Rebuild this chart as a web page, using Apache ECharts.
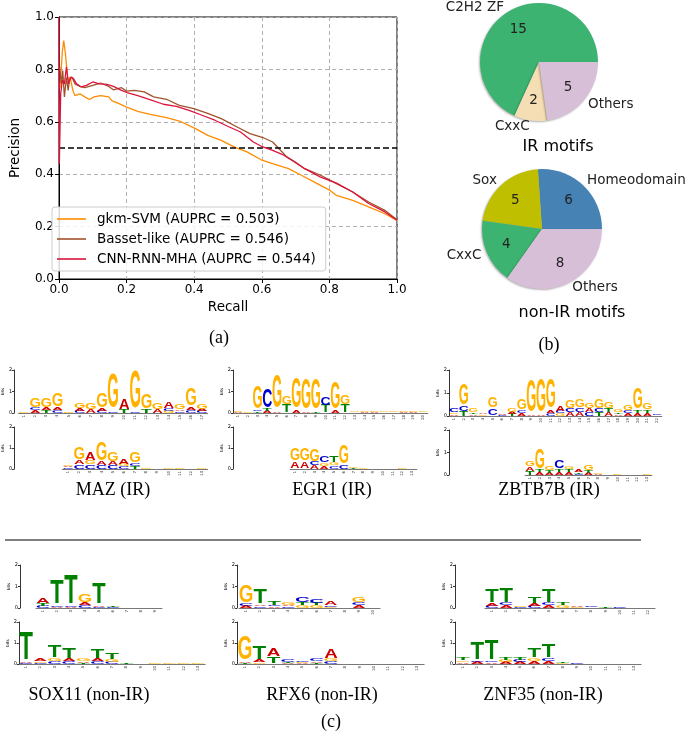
<!DOCTYPE html>
<html><head><meta charset="utf-8">
<script src="https://cdn.jsdelivr.net/npm/echarts@6/dist/echarts.min.js"></script>
<style>html,body{margin:0;padding:0;background:#fff}#c{width:685px;height:736px}</style>
</head><body><div id="c"></div>
<script>
// ---------- (a) precision-recall curves ----------
const gkmRecall = [0.003,0.01,0.014,0.019,0.026,0.033,0.041,0.047,0.062,0.076,0.09,0.104,0.123,0.147,0.157,0.176,0.2,0.233,0.27,0.318,0.356,0.404,0.44,0.48,0.518,0.556,0.598,0.632,0.679,0.717,0.764,0.802,0.821,0.869,0.916,0.964,1.0];
const gkmPrecision = [0.73,0.87,0.91,0.86,0.76,0.77,0.72,0.70,0.707,0.695,0.685,0.695,0.70,0.695,0.68,0.67,0.656,0.64,0.628,0.616,0.603,0.574,0.548,0.529,0.504,0.485,0.455,0.44,0.421,0.396,0.364,0.338,0.319,0.30,0.275,0.249,0.224];
const bassetRecall = [0.002,0.007,0.011,0.016,0.022,0.027,0.031,0.038,0.047,0.062,0.076,0.1,0.123,0.147,0.161,0.185,0.2,0.223,0.252,0.28,0.318,0.356,0.399,0.442,0.48,0.527,0.565,0.603,0.632,0.651,0.674,0.698,0.727,0.774,0.821,0.869,0.916,0.964,1.0];
const bassetPrecision = [0.81,0.745,0.796,0.695,0.77,0.72,0.758,0.771,0.745,0.735,0.73,0.739,0.748,0.735,0.722,0.73,0.717,0.72,0.714,0.695,0.686,0.663,0.65,0.631,0.612,0.58,0.555,0.54,0.523,0.497,0.466,0.447,0.421,0.396,0.364,0.332,0.294,0.262,0.226];
const cnnRecall = [0,0.001,0.005,0.01,0.016,0.022,0.028,0.035,0.043,0.052,0.066,0.081,0.1,0.119,0.142,0.161,0.185,0.204,0.233,0.271,0.309,0.347,0.385,0.423,0.461,0.499,0.537,0.575,0.603,0.632,0.66,0.689,0.727,0.774,0.821,0.869,0.916,0.964,1.0];
const cnnPrecision = [1.0,0.44,0.707,0.758,0.745,0.81,0.745,0.771,0.765,0.745,0.733,0.739,0.752,0.745,0.743,0.735,0.72,0.71,0.70,0.684,0.667,0.659,0.644,0.625,0.606,0.583,0.561,0.523,0.504,0.491,0.476,0.453,0.421,0.389,0.366,0.332,0.288,0.256,0.224];
const seriesNames = ['gkm-SVM (AUPRC = 0.503)','Basset-like (AUPRC = 0.546)','CNN-RNN-MHA (AUPRC = 0.544)'];
const chanceLevel = 0.5;

// ---------- (b) pies ----------
const irNames = ['C2H2 ZF','CxxC','Others'];
const irValues = [15,2,5];
const nonIrNames = ['Homeodomain','Sox','CxxC','Others'];
const nonIrValues = [6,5,4,8];

// ---------- (c) sequence logos: [top letter, its bits, letters below (bottom->up), their total bits] ----------
const mazTop = [["G",0.05,"",0],["G",0.45,"AC",0.24],["G",0.45,"TA",0.24],["G",0.6,"CA",0.25],["G",0.05,"",0],["G",0.28,"CA",0.18],["G",0.3,"A",0.16],["G",0.7,"CA",0.18],["G",1.64,"C",0.08],["A",0.5,"T",0.15],["G",1.78,"C",0.06],["G",0.72,"T",0.16],["G",0.3,"A",0.16],["A",0.3,"GC",0.2],["G",0.25,"CA",0.17],["G",0.85,"CA",0.27],["G",0.25,"CA",0.18]];
const mazBottom = [["G",0.08,"CA",0.15],["G",0.55,"CA",0.42],["A",0.38,"CG",0.4],["G",0.9,"CA",0.35],["G",0.45,"CA",0.33],["A",0.22,"CG",0.23],["G",0.5,"TC",0.28],["G",0.03,"A",0.02],["G",0.02,"",0],["G",0.03,"A",0.02],["G",0.03,"A",0.02],["G",0.02,"C",0.02],["G",0.03,"A",0.02]];
const egr1Top = [["G",0.06,"A",0.04],["G",0.03,"",0],["G",1.1,"TC",0.13],["C",0.9,"AT",0.18],["G",1.6,"A",0.08],["G",0.38,"T",0.36],["G",1.44,"A",0.1],["G",1.48,"A",0.06],["G",1.48,"T",0.06],["C",0.38,"T",0.34],["G",1.28,"A",0.1],["G",0.42,"T",0.38],["G",0.03,"C",0.02],["G",0.05,"A",0.03],["G",0.06,"A",0.04],["G",0.03,"C",0.02],["G",0.03,"A",0.02],["G",0.04,"A",0.03],["G",0.06,"A",0.03],["G",0.04,"C",0.02]];
const egr1Bottom = [["G",0.6,"A",0.34],["G",0.6,"A",0.34],["G",0.55,"AC",0.34],["C",0.3,"AG",0.28],["T",0.32,"CG",0.3],["G",0.9,"C",0.18],["G",0.06,"T",0.05],["G",0.03,"C",0.02],["G",0.02,"A",0.02],["G",0.02,"",0],["G",0.02,"C",0.01],["G",0.03,"A",0.01],["G",0.02,"",0]];
const zbtb7bTop = [["C",0.18,"AG",0.15],["G",0.95,"TC",0.42],["G",0.2,"AT",0.16],["A",0.08,"G",0.06],["G",0.48,"C",0.32],["A",0.05,"C",0.03],["G",0.16,"TA",0.17],["G",0.45,"AC",0.25],["G",1.45,"A",0.07],["G",1.5,"A",0.05],["G",1.3,"CA",0.25],["A",0.2,"GC",0.2],["G",0.38,"AC",0.32],["G",0.35,"AC",0.35],["G",0.25,"CA",0.3],["G",0.4,"TC",0.3],["G",0.28,"AT",0.3],["G",0.12,"AT",0.14],["G",0.25,"AC",0.22],["G",0.95,"AT",0.25],["G",0.3,"AT",0.25],["C",0.04,"G",0.02]];
const zbtb7bBottom = [["G",0.25,"TA",0.35],["G",0.9,"AT",0.22],["G",0.2,"AT",0.2],["C",0.35,"AT",0.25],["G",0.12,"AT",0.25],["A",0.1,"CT",0.12],["G",0.22,"AT",0.2],["G",0.05,"A",0.03],["C",0.02,"",0],["G",0.03,"",0],["G",0.02,"",0],["G",0.02,"",0],["G",0.04,"",0]];
const sox11Top = [["A",0.25,"CT",0.2],["T",1.1,"AC",0.12],["T",1.33,"AC",0.1],["G",0.38,"CA",0.24],["T",1.0,"CA",0.12],["T",0.04,"C",0.04],["T",0.02,"",0],["T",0.02,"",0],["T",0.02,"",0]];
const sox11Bottom = [["T",1.3,"CA",0.09],["A",0.12,"CG",0.12],["T",0.55,"CG",0.28],["T",0.5,"CA",0.22],["G",0.1,"TA",0.12],["T",0.42,"CA",0.26],["T",0.28,"CG",0.21],["T",0.03,"G",0.02],["G",0.02,"",0],["G",0.03,"",0],["G",0.03,"",0],["G",0.03,"",0],["G",0.03,"",0]];
const rfx6Top = [["G",0.85,"AC",0.18],["T",0.7,"CA",0.15],["T",0.18,"AC",0.13],["G",0.12,"CA",0.14],["C",0.25,"GT",0.25],["C",0.2,"GT",0.22],["A",0.2,"GC",0.11],["T",0.02,"",0],["G",0.22,"AC",0.24],["G",0.01,"",0]];
const rfx6Bottom = [["G",1.15,"TA",0.1],["T",0.6,"GA",0.18],["A",0.4,"T",0.32],["C",0.1,"AT",0.1],["C",0.08,"AG",0.07],["C",0.1,"TA",0.12],["A",0.45,"CG",0.23],["G",0.01,"",0],["G",0.01,"",0],["G",0.01,"",0],["G",0.01,"",0],["G",0.01,"",0],["G",0.01,"",0]];
const znf35Top = [["T",0.62,"CA",0.2],["T",0.65,"AC",0.22],["G",0.05,"C",0.05],["T",0.32,"CA",0.18],["T",0.6,"AC",0.22],["T",0.12,"G",0.14],["A",0.06,"G",0.04],["C",0.04,"G",0.02],["T",0.03,"C",0.02],["C",0.03,"A",0.01],["A",0.02,"",0],["A",0.02,"",0]];
const znf35Bottom = [["T",0.15,"AG",0.16],["T",0.8,"AC",0.18],["T",0.95,"AC",0.13],["T",0.15,"AG",0.19],["T",0.12,"AC",0.19],["T",0.45,"AG",0.27],["T",0.6,"AC",0.28],["T",0.05,"G",0.03],["C",0.04,"",0],["G",0.02,"A",0.01],["G",0.02,"",0],["T",0.02,"",0],["A",0.02,"",0]];
const logoTitles = ['MAZ (IR)','EGR1 (IR)','ZBTB7B (IR)','SOX11 (non-IR)','RFX6 (non-IR)','ZNF35 (non-IR)'];

// ---------- styling / layout ----------
const LETTERS = ['A','C','G','T'];
const LETTER_COLORS = {A:'#CC0000', C:'#0000CC', G:'#FFB300', T:'#008000'};
const INK = {A:0.70, C:0.64, G:0.69, T:0.59};
const CAP = {A:0.716, C:0.74, G:0.74, T:0.716};
const SANS = 'DejaVu Sans';
const SERIF = 'Liberation Serif';

const logoLayout = [
  {data: mazTop,      axis: 13,  first: 23,  last: 202, base: 413, top: 370},
  {data: mazBottom,   axis: 13,  first: 67,  last: 202, base: 469, top: 427},
  {data: egr1Top,     axis: 233, first: 238, last: 423, base: 413, top: 370},
  {data: egr1Bottom,  axis: 233, first: 295, last: 412, base: 469, top: 427},
  {data: zbtb7bTop,   axis: 449, first: 454, last: 657, base: 416, top: 370},
  {data: zbtb7bBottom,axis: 449, first: 530, last: 647, base: 475, top: 430},
  {data: sox11Top,    axis: 20,  first: 43,  last: 155, base: 608, top: 565},
  {data: sox11Bottom, axis: 19,  first: 26,  last: 198, base: 664, top: 622},
  {data: rfx6Top,     axis: 237, first: 246, last: 373, base: 608, top: 565},
  {data: rfx6Bottom,  axis: 237, first: 245, last: 417, base: 664, top: 622},
  {data: znf35Top,    axis: 455, first: 492, last: 648, base: 608, top: 565},
  {data: znf35Bottom, axis: 455, first: 463, last: 634, base: 664, top: 622}
];

function buildLogoData(arr) {
  const out = [];
  arr.forEach((p, i) => {
    const main = p[0], mainH = p[1], subs = p[2], subH = p[3];
    let y = 0;
    const each = subs.length ? subH / subs.length : 0;
    for (const ch of subs) { out.push([i, y, y + each, LETTERS.indexOf(ch)]); y += each; }
    out.push([i, y, y + mainH, LETTERS.indexOf(main)]);
  });
  return out;
}

function renderLetter(params, api) {
  const pos = api.value(0), y0 = api.value(1), y1 = api.value(2);
  const letter = LETTERS[api.value(3)];
  const pb = api.coord([pos, y0]), pt = api.coord([pos, y1]);
  const h = pb[1] - pt[1];
  if (!(h > 0.25)) return null;
  const w = api.size([1, 0])[0] * 0.92;
  const F = 100;
  return {
    type: 'text',
    x: pb[0], y: (pb[1] + pt[1]) / 2,
    scaleX: w / (INK[letter] * F), scaleY: h / (CAP[letter] * F),
    style: {text: letter, x: 0, y: 0.0115 * F, fill: LETTER_COLORS[letter],
            font: 'bold 100px "Liberation Sans"', align: 'center', verticalAlign: 'middle'}
  };
}

const W = 685, H = 736;
const grids = [{left: 45, right: W - 397, top: 17, bottom: H - 279, show: true, borderColor: '#000', borderWidth: 1, backgroundColor: '#fff'}];
const xAxes = [{
  gridIndex: 0, type: 'value', min: 0, max: 1, interval: 0.2,
  name: 'Recall', nameLocation: 'middle', nameGap: 21,
  nameTextStyle: {fontFamily: SANS, fontSize: 13.5, color: '#000'},
  axisLine: {show: true, lineStyle: {color: '#000', width: 1}},
  axisTick: {show: true, length: 4, lineStyle: {color: '#000'}},
  axisLabel: {fontFamily: SANS, fontSize: 12, color: '#000', margin: 5, formatter: v => v.toFixed(1)},
  splitLine: {show: true, lineStyle: {color: '#b0b0b0', type: [4, 3], width: 1}}
}];
const yAxes = [{
  gridIndex: 0, type: 'value', min: 0, max: 1, interval: 0.2,
  name: 'Precision', nameLocation: 'middle', nameGap: 37,
  nameTextStyle: {fontFamily: SANS, fontSize: 13.5, color: '#000'},
  axisLine: {show: true, lineStyle: {color: '#000', width: 1}},
  axisTick: {show: true, length: 4, lineStyle: {color: '#000'}},
  axisLabel: {fontFamily: SANS, fontSize: 12, color: '#000', margin: 5, formatter: v => v.toFixed(1)},
  splitLine: {show: true, lineStyle: {color: '#b0b0b0', type: [4, 3], width: 1}}
}];

const zip = (a, b) => a.map((v, i) => [v, b[i]]);
const series = [
  {name: seriesNames[0], type: 'line', xAxisIndex: 0, yAxisIndex: 0, data: zip(gkmRecall, gkmPrecision),
   symbol: 'none', lineStyle: {color: '#ff8c00', width: 1.3}, itemStyle: {color: '#ff8c00'}, z: 3,
   markLine: {silent: true, symbol: 'none', label: {show: false},
     lineStyle: {color: '#000', type: [6, 3], width: 1.6}, data: [{yAxis: chanceLevel}]}},
  {name: seriesNames[1], type: 'line', xAxisIndex: 0, yAxisIndex: 0, data: zip(bassetRecall, bassetPrecision),
   symbol: 'none', lineStyle: {color: '#a0522d', width: 1.3}, itemStyle: {color: '#a0522d'}, z: 4},
  {name: seriesNames[2], type: 'line', xAxisIndex: 0, yAxisIndex: 0, data: zip(cnnRecall, cnnPrecision),
   symbol: 'none', lineStyle: {color: '#dc143c', width: 1.3}, itemStyle: {color: '#dc143c'}, z: 5}
];

function pieSeries(names, values, colors, center, r) {
  const data = names.map((n, i) => ({name: n, value: values[i], itemStyle: {color: colors[i]}}));
  return [
    {type: 'pie', center: center, radius: [0, r], startAngle: 0, clockwise: false, avoidLabelOverlap: false,
     silent: true, itemStyle: {borderWidth: 0, shadowColor: 'rgba(0,0,0,0.3)', shadowBlur: 2, shadowOffsetX: -1, shadowOffsetY: 1},
     label: {show: true, position: 'outside', formatter: '{b}', fontFamily: SANS, fontSize: 13.5, color: '#222', distanceToLabelLine: 0},
     labelLine: {show: false, length: r * 0.1, length2: 0},
     data: data},
    {type: 'pie', center: center, radius: [0, r * 1.2], startAngle: 0, clockwise: false, avoidLabelOverlap: false,
     silent: true, itemStyle: {color: 'rgba(0,0,0,0)', borderWidth: 0},
     label: {show: true, position: 'inside', formatter: '{c}', fontFamily: SANS, fontSize: 13.5, color: '#222'},
     labelLine: {show: false},
     data: names.map((n, i) => ({name: n, value: values[i], itemStyle: {color: 'rgba(0,0,0,0)'}}))}
  ];
}
series.push(...pieSeries(irNames, irValues, ['#3cb371', '#f5deb3', '#d8bfd8'], [539, 62], 59));
series.push(...pieSeries(nonIrNames, nonIrValues, ['#4682b4', '#bfbf00', '#3cb371', '#d8bfd8'], [542, 229], 60));

logoLayout.forEach((L) => {
  const n = L.data.length;
  const sp = (L.last - L.first) / (n - 1);
  const gl = L.first - sp / 2, gr = L.last + sp / 2;
  const gi = grids.length;
  grids.push({left: gl, right: W - gr, top: L.top, bottom: H - L.base});
  xAxes.push({gridIndex: gi, type: 'category', boundaryGap: true,
    data: L.data.map((_, i) => String(i + 1)),
    axisLine: {show: true, lineStyle: {color: '#555', width: 0.8}},
    axisTick: {show: false},
    axisLabel: {show: true, interval: 0, fontSize: 4, rotate: 90, margin: 2, color: '#333', fontFamily: SANS},
    splitLine: {show: false}});
  yAxes.push({gridIndex: gi, type: 'value', min: 0, max: 2, interval: 1, offset: Math.max(0, gl - L.axis),
    name: 'bits', nameLocation: 'middle', nameGap: 7, nameRotate: 90,
    nameTextStyle: {fontSize: 4, color: '#000', fontFamily: SANS},
    axisLine: {show: true, lineStyle: {color: '#000', width: 0.8}},
    axisTick: {show: true, length: 2, lineStyle: {color: '#000', width: 0.8}},
    axisLabel: {fontSize: 5, margin: 2, color: '#000', fontFamily: SANS},
    splitLine: {show: false}});
  series.push({type: 'custom', xAxisIndex: gi, yAxisIndex: gi, clip: false, silent: true,
    renderItem: renderLetter, data: buildLogoData(L.data), z: 3});
});

const titleText = (text, x, y, font) => ({type: 'text', x: x, y: y, silent: true,
  style: {text: text, font: font, fill: '#000', align: 'center', verticalAlign: 'middle'}});
const serif18 = '18px "' + SERIF + '"';
const sans16 = '16px "' + SANS + '"';
const graphics = [
  titleText('(a)', 219, 338, serif18),
  titleText('(b)', 549, 345, serif18),
  titleText('(c)', 331, 722, serif18),
  titleText('IR motifs', 558, 147, sans16),
  titleText('non-IR motifs', 572, 313, sans16),
  titleText(logoTitles[0], 113, 490, serif18),
  titleText(logoTitles[1], 332, 490, serif18),
  titleText(logoTitles[2], 549, 490, serif18),
  titleText(logoTitles[3], 89, 695, serif18),
  titleText(logoTitles[4], 322, 695, serif18),
  titleText(logoTitles[5], 543, 695, serif18),
  {type: 'line', silent: true, shape: {x1: 5, y1: 540, x2: 641, y2: 540}, style: {stroke: '#000', lineWidth: 1}}
];

const chart = echarts.init(document.getElementById('c'), null, {renderer: 'canvas', width: W, height: H});
chart.setOption({
  animation: false,
  backgroundColor: '#fff',
  grid: grids, xAxis: xAxes, yAxis: yAxes,
  legend: {
    data: seriesNames.map(n => ({name: n, icon: 'rect'})), left: 52, top: 207, orient: 'vertical', selectedMode: false,
    itemWidth: 29, itemHeight: 1.6, itemGap: 6, padding: [5, 10, 5, 5],
    backgroundColor: 'rgba(255,255,255,0.85)', borderColor: '#cccccc', borderWidth: 1, borderRadius: 3,
    textStyle: {fontFamily: SANS, fontSize: 13.5, lineHeight: 14, color: '#000', padding: [0, 0, 0, 6]}
  },
  series: series,
  graphic: graphics
});
</script></body></html>
